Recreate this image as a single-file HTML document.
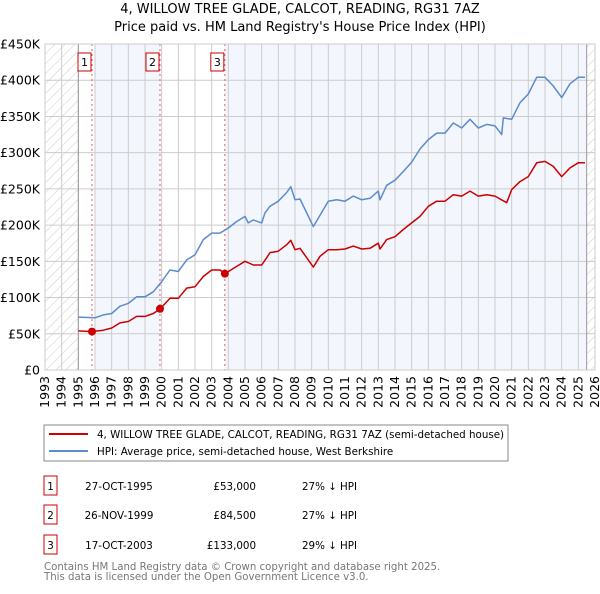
<!DOCTYPE html>
<html><head><meta charset="utf-8"><style>
body{margin:0;background:#fff;width:600px;height:590px;overflow:hidden;font-family:"DejaVu Sans","Liberation Sans",sans-serif}
svg text{font-family:"DejaVu Sans","Liberation Sans",sans-serif}
</style></head><body>
<svg id="c" width="600" height="590" xmlns="http://www.w3.org/2000/svg">
<defs><pattern id="hatch" width="7" height="7" patternUnits="userSpaceOnUse" patternTransform="rotate(45)"><line x1="0" y1="0" x2="0" y2="7" stroke="#ccc" stroke-width="1"/></pattern></defs>
<text x="300" y="13" text-anchor="middle" font-size="13">4, WILLOW TREE GLADE, CALCOT, READING, RG31 7AZ</text>
<text x="300" y="31" text-anchor="middle" font-size="13">Price paid vs. HM Land Registry's House Price Index (HPI)</text>
<g id="plot"></g>
<rect x="44" y="425" width="464" height="36" fill="#fff" stroke="#888"/>
<line x1="49" y1="434" x2="88" y2="434" stroke="#cc0000" stroke-width="2"/>
<text x="97" y="438" font-size="10.3">4, WILLOW TREE GLADE, CALCOT, READING, RG31 7AZ (semi-detached house)</text>
<line x1="49" y1="451" x2="88" y2="451" stroke="#5b8ccc" stroke-width="2"/>
<text x="97" y="455" font-size="10.3">HPI: Average price, semi-detached house, West Berkshire</text>
<g id="table" font-size="10.3"></g>
<text x="44" y="570" font-size="10.2" fill="#777">Contains HM Land Registry data © Crown copyright and database right 2025.</text>
<text x="44" y="580" font-size="10.2" fill="#777">This data is licensed under the Open Government Licence v3.0.</text>
</svg>
<script>
const hpiYears=[1995,1996,1996.5,1997,1997.5,1998,1998.5,1999,1999.5,2000,2000.5,2001,2001.5,2002,2002.5,2003,2003.5,2004,2004.5,2005,2005.2,2005.5,2006,2006.2,2006.5,2007,2007.5,2007.75,2008,2008.3,2009.1,2010,2010.5,2011,2011.5,2012,2012.5,2013,2013.1,2013.5,2014,2014.5,2015,2015.5,2016,2016.5,2017,2017.5,2018,2018.5,2019,2019.5,2020,2020.4,2020.5,2021,2021.5,2022,2022.5,2023,2023.5,2024,2024.5,2025,2025.4];
const hpiValues=[73,72,76,78,88,92,101,101,108,122,138,136,152,159,180,189,189,196,205,212,203,207,203,217,226,233,245,253,235,236,198,233,235,233,240,235,237,247,235,255,262,274,287,305,318,327,327,341,334,346,334,339,337,325,348,346,369,381,404,404,392,376,395,404,404];
const ppYears=[1995,1995.8,1996.5,1997,1997.5,1998,1998.5,1999,1999.5,1999.9,2000.5,2001,2001.5,2002,2002.5,2003,2003.5,2003.8,2004.5,2005,2005.5,2006,2006.3,2006.5,2007,2007.5,2007.75,2008,2008.3,2009.1,2009.5,2010,2010.5,2011,2011.5,2012,2012.5,2013,2013.1,2013.5,2014,2014.5,2015,2015.5,2016,2016.5,2017,2017.5,2018,2018.5,2019,2019.5,2020,2020.7,2021,2021.5,2022,2022.5,2023,2023.5,2024,2024.5,2025,2025.4];
const ppValues=[54,53,55,58,65,67,74,74,78,84,99,99,113,115,129,138,138,133,143,150,145,145,155,162,164,173,179,166,168,142,157,166,166,167,171,167,168,175,167,180,184,194,203,212,226,233,233,242,240,247,240,242,240,231,249,260,267,286,288,281,267,279,286,286];
const saleYears=[1995.82,1999.9,2003.79];
const saleValues=[53,84.5,133];
const saleLabels=["1","2","3"];
const saleDates=["27-OCT-1995","26-NOV-1999","17-OCT-2003"];
const salePrices=["£53,000","£84,500","£133,000"];
const saleDiffs=["27% ↓ HPI","27% ↓ HPI","29% ↓ HPI"];
const yTicks=[0,50,100,150,200,250,300,350,400,450];
const yTickLabels=["£0","£50K","£100K","£150K","£200K","£250K","£300K","£350K","£400K","£450K"];
const xTicks=[];for(let y=1993;y<=2026;y++)xTicks.push(y);

const NS="http://www.w3.org/2000/svg";
const X0=45,X1=595,Y0=370,Y1=44;
const xs=y=>X0+(y-1993)/33*(X1-X0);
const ys=v=>Y0-v/450*(Y0-Y1);
const plot=document.getElementById('plot');
function mk(tag,attrs,parent){const e=document.createElementNS(NS,tag);for(const k in attrs)e.setAttribute(k,attrs[k]);(parent||plot).appendChild(e);return e;}

let e=mk('rect',{x:X0,y:Y1,width:X1-X0,height:Y0-Y1,fill:'#fff'});


e=mk('rect',{x:xs(1993),y:Y1,width:xs(1995)-xs(1993),height:Y0-Y1,fill:'url(#hatch)'});


e=mk('rect',{x:xs(2025.5),y:Y1,width:X1-xs(2025.5),height:Y0-Y1,fill:'url(#hatch)'});


e=mk('rect',{x:xs(1996),y:Y1,width:xs(saleYears[1])-xs(1996),height:Y0-Y1,fill:'#f3f6fd'});


e=mk('rect',{x:xs(saleYears[2]),y:Y1,width:xs(2025.5)-xs(saleYears[2]),height:Y0-Y1,fill:'#f3f6fd'});



xTicks.forEach(y=>{
  const l=mk('line',{x1:xs(y),x2:xs(y),y1:Y1,y2:Y0,stroke:'#ccc','stroke-width':1});
  
  
  const t=mk('text',{x:0,y:0,'font-size':12.5,'text-anchor':'end',transform:`translate(${xs(y)+4},${Y0+6}) rotate(-90)`});
  t.textContent=y;
  
  
});
yTicks.forEach((v,i)=>{
  const l=mk('line',{x1:X0,x2:X1,y1:ys(v),y2:ys(v),stroke:'#ccc','stroke-width':1});
  
  
  const t=mk('text',{x:40,y:ys(v)+4.5,'font-size':12.5,'text-anchor':'end'});
  t.textContent=yTickLabels[i];
  
  
});
e=mk('line',{x1:xs(1995),x2:xs(1995),y1:Y1,y2:Y0,stroke:'#999'});


e=mk('line',{x1:xs(2025.5),x2:xs(2025.5),y1:Y1,y2:Y0,stroke:'#999'});



saleYears.forEach((y,i)=>{
  const l=mk('line',{x1:xs(y),x2:xs(y),y1:Y1,y2:Y0,stroke:'#e06060','stroke-dasharray':'2,3'});
  
  
  const r=mk('rect',{x:xs(y)-14,y:53,width:13,height:18,fill:'#fff',stroke:'#cc0000'});
  
  
  const t=mk('text',{x:xs(y)-7.5,y:66,'font-size':11,'text-anchor':'middle'});
  t.textContent=saleLabels[i];
  
  
});

const path=(xa,va)=>xa.map((y,i)=>(i?'L':'M')+xs(y).toFixed(1)+','+ys(va[i]).toFixed(1)).join('');
e=mk('path',{d:path(hpiYears,hpiValues),fill:'none',stroke:'#5b8ccc','stroke-width':1.5,'stroke-linejoin':'round'});


e=mk('path',{d:path(ppYears,ppValues),fill:'none',stroke:'#cc0000','stroke-width':1.5,'stroke-linejoin':'round'});


saleYears.forEach((y,i)=>{
  const c=mk('circle',{cx:xs(y),cy:ys(saleValues[i]),r:4,fill:'#cc0000'});
  
  
});
e=mk('rect',{x:X0,y:Y1,width:X1-X0,height:Y0-Y1,fill:'none',stroke:'#ccc'});



const tb=document.getElementById('table');
const rowY=[486,515,545];
saleLabels.forEach((s,i)=>{
  const y=rowY[i];
  const r=mk('rect',{x:44,y:y-10,width:13,height:19,fill:'#fff',stroke:'#cc0000'},tb);
  
  
  let t=mk('text',{x:50.5,y:y+4,'text-anchor':'middle'},tb);t.textContent=s;
  
  
  t=mk('text',{x:119,y:y+4,'text-anchor':'middle'},tb);t.textContent=saleDates[i];
  
  
  t=mk('text',{x:256,y:y+4,'text-anchor':'end'},tb);t.textContent=salePrices[i];
  
  
  t=mk('text',{x:302,y:y+4},tb);t.textContent=saleDiffs[i];
  
  
});
</script>
</body></html>
